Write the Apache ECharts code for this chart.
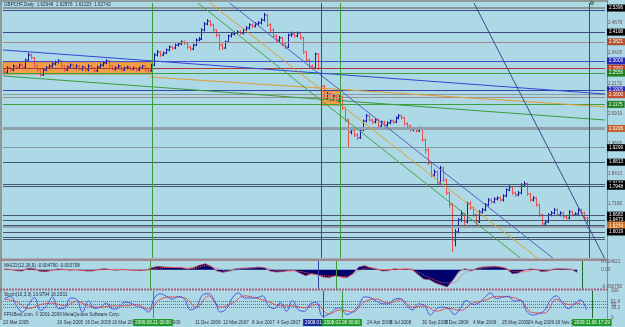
<!DOCTYPE html>
<html><head><meta charset="utf-8">
<script src="https://cdn.jsdelivr.net/npm/echarts@6/dist/echarts.min.js"></script>
<style>html,body{margin:0;padding:0;background:#add8e6;overflow:hidden}#c{width:625px;height:327px}</style>
</head><body><div id="c"></div>
<script>
// ---------------- DATA ----------------
const firstOpen = 2.270;
const closes = [
2.264,2.281,2.273,2.289,2.281,2.293,2.285,2.314,2.335,2.323,
2.289,2.273,2.252,2.273,2.281,2.289,2.298,2.306,2.310,2.289,
2.273,2.285,2.293,2.281,2.289,2.277,2.285,2.273,2.289,2.281,
2.269,2.285,2.293,2.302,2.310,2.289,2.277,2.281,2.289,2.273,
2.281,2.285,2.277,2.281,2.273,2.281,2.289,2.273,2.269,2.293,
2.335,2.347,2.335,2.343,2.356,2.368,2.364,2.376,2.381,2.389,
2.385,2.368,2.360,2.376,2.397,2.401,2.439,2.464,2.476,2.460,
2.439,2.418,2.376,2.364,2.389,2.414,2.422,2.426,2.430,2.426,
2.439,2.447,2.460,2.455,2.464,2.468,2.480,2.501,2.460,2.439,
2.414,2.397,2.406,2.381,2.368,2.418,2.422,2.414,2.426,2.406,
2.347,2.314,2.289,2.281,2.339,2.281,2.206,2.157,2.173,2.148,
2.165,2.144,2.161,2.115,2.065,2.015,2.024,2.003,1.991,2.024,
2.061,2.082,2.065,2.057,2.065,2.040,2.057,2.044,2.053,2.061,
2.057,2.074,2.082,2.074,2.049,2.040,2.024,2.028,2.020,2.032,
1.982,1.941,1.887,1.837,1.849,1.804,1.866,1.816,1.762,1.713,
1.567,1.600,1.650,1.675,1.642,1.717,1.700,1.671,1.642,1.683,
1.692,1.713,1.733,1.725,1.737,1.741,1.733,1.750,1.775,1.787,
1.762,1.754,1.762,1.796,1.800,1.758,1.733,1.741,1.713,1.671,
1.634,1.642,1.671,1.679,1.692,1.671,1.679,1.663,1.658,1.683,
1.671,1.675,1.692,1.679,1.658,1.627];
const highs = [
2.281,2.289,2.287,2.296,2.294,2.300,2.298,2.320,2.345,2.341,
2.327,2.293,2.277,2.279,2.289,2.296,2.304,2.312,2.318,2.314,
2.294,2.291,2.300,2.298,2.296,2.294,2.291,2.289,2.296,2.294,
2.285,2.291,2.300,2.308,2.318,2.314,2.293,2.289,2.296,2.293,
2.287,2.291,2.289,2.287,2.285,2.287,2.294,2.293,2.279,2.298,
2.343,2.356,2.352,2.350,2.362,2.375,2.374,2.383,2.389,2.396,
2.395,2.390,2.372,2.382,2.404,2.410,2.446,2.472,2.484,2.481,
2.465,2.443,2.422,2.383,2.395,2.420,2.430,2.434,2.438,2.437,
2.446,2.455,2.467,2.466,2.472,2.476,2.488,2.510,2.505,2.466,
2.445,2.420,2.414,2.410,2.387,2.424,2.432,2.428,2.433,2.431,
2.410,2.352,2.320,2.296,2.345,2.343,2.285,2.212,2.181,2.179,
2.172,2.170,2.168,2.166,2.120,2.070,2.036,2.030,2.011,2.030,
2.067,2.090,2.088,2.071,2.072,2.070,2.063,2.062,2.060,2.067,
2.066,2.080,2.090,2.088,2.078,2.055,2.046,2.036,2.034,2.038,
2.036,1.988,1.947,1.893,1.860,1.855,1.875,1.870,1.822,1.768,
1.720,1.612,1.658,1.690,1.680,1.725,1.728,1.706,1.677,1.690,
1.700,1.720,1.741,1.740,1.744,1.749,1.747,1.757,1.782,1.795,
1.792,1.768,1.770,1.803,1.810,1.805,1.763,1.749,1.746,1.718,
1.676,1.650,1.678,1.687,1.699,1.697,1.686,1.684,1.668,1.690,
1.688,1.682,1.699,1.697,1.684,1.663];
const lows = [
2.256,2.260,2.266,2.268,2.275,2.277,2.279,2.281,2.308,2.316,
2.283,2.266,2.244,2.248,2.268,2.277,2.283,2.292,2.300,2.283,
2.266,2.268,2.279,2.275,2.275,2.271,2.270,2.266,2.268,2.275,
2.262,2.264,2.279,2.287,2.296,2.283,2.271,2.270,2.275,2.266,
2.268,2.275,2.271,2.272,2.266,2.268,2.276,2.267,2.262,2.266,
2.289,2.329,2.327,2.330,2.339,2.350,2.356,2.359,2.370,2.376,
2.378,2.360,2.352,2.355,2.372,2.392,2.397,2.433,2.458,2.452,
2.431,2.410,2.356,2.356,2.360,2.385,2.408,2.416,2.420,2.419,
2.420,2.433,2.441,2.447,2.449,2.458,2.462,2.474,2.452,2.431,
2.406,2.389,2.390,2.372,2.360,2.364,2.410,2.406,2.408,2.398,
2.339,2.306,2.281,2.273,2.277,2.273,2.198,2.150,2.150,2.142,
2.144,2.138,2.140,2.107,2.057,1.953,2.005,1.995,1.982,1.986,
2.018,2.055,2.059,2.049,2.051,2.034,2.036,2.038,2.039,2.047,
2.050,2.052,2.068,2.067,2.042,2.032,2.017,2.018,2.012,2.015,
1.975,1.925,1.878,1.828,1.830,1.796,1.800,1.808,1.754,1.700,
1.517,1.540,1.594,1.642,1.615,1.636,1.692,1.663,1.630,1.637,
1.676,1.686,1.707,1.718,1.719,1.731,1.726,1.727,1.744,1.769,
1.755,1.746,1.748,1.757,1.790,1.750,1.726,1.727,1.705,1.663,
1.626,1.628,1.637,1.665,1.673,1.665,1.665,1.656,1.651,1.653,
1.665,1.666,1.670,1.673,1.650,1.612];

// MACD main (one value every 2 bars) and signal (one value every 4 bars)
const macdMain = [
0.002,0.001,-0.003,-0.004,0.004,0.003,-0.005,-0.006,-0.002,0.002,
0.001,-0.002,0.000,-0.002,-0.004,-0.004,0.001,0.003,0.000,-0.002,
0.001,-0.001,-0.002,-0.003,-0.001,0.006,0.010,0.008,0.007,0.006,
0.006,0.002,0.006,0.013,0.018,0.010,-0.004,-0.008,-0.004,0.002,
0.004,0.005,0.006,0.008,0.006,-0.004,-0.007,-0.006,-0.003,-0.001,
-0.010,-0.018,-0.012,-0.015,-0.022,-0.024,-0.018,-0.022,-0.024,-0.012,
0.008,0.012,0.006,0.002,-0.004,-0.003,0.003,0.001,0.002,0.001,
-0.014,-0.028,-0.030,-0.040,-0.046,-0.052,-0.030,-0.005,0.003,-0.004,
0.004,0.008,0.009,0.010,0.008,0.004,-0.012,-0.010,-0.002,0.002,
0.001,-0.006,-0.004,0.002,0.003,0.002,0.001,-0.008];
const macdSignal = [
0.001,-0.001,0.000,-0.002,-0.003,0.000,-0.001,-0.003,-0.001,0.001,
0.000,-0.001,-0.002,0.004,0.007,0.006,0.004,0.012,0.004,-0.005,
0.002,0.005,0.006,-0.002,-0.004,-0.005,-0.013,-0.018,-0.020,-0.021,
-0.004,0.006,0.000,0.000,0.002,-0.008,-0.024,-0.038,-0.040,-0.008,
0.001,0.007,0.008,-0.004,-0.006,0.000,-0.003,0.002,0.002];

// Stochastic main (every 2 bars) and signal (every 4 bars)
const stochMain = [
72,80,45,22,50,76,28,45,78,35,
36,74,70,22,64,35,41,55,33,37,
58,56,43,37,22,75,90,80,70,80,
70,30,40,85,90,65,22,35,75,93,
74,74,75,82,45,35,57,25,65,30,
25,52,58,6,13,32,38,13,22,45,
78,75,62,53,52,70,72,45,30,52,
45,11,35,40,35,13,37,65,50,55,
75,93,72,77,80,62,67,26,11,16,
28,67,82,55,35,52,67,30];
const stochSignal = [
70,60,35,50,55,45,62,45,40,45,
45,50,32,70,78,75,40,82,40,55,
82,74,60,45,45,38,50,15,30,22,
60,70,55,68,40,45,25,36,28,55,
65,80,78,65,20,18,70,50,55];

// horizontal levels (price), fib texts and right-side price tags
const hLevels = [2.534,2.522,2.430,2.393,2.306,2.281,2.256,2.186,2.169,2.157,2.127,2.032,1.945,1.887,1.804,1.791,1.667,1.650,1.634,1.621,1.617,1.604,1.596,1.580,1.571];
const fibTexts = ['','(3) 38.60% 2.5396','(2) 76.40% 2.4198','(1) 61.80% 2.3821','(1) TOP 52.30% 2.3009','(3) 00.00% 2.2950','(1) BOT 47.25% 2.2556','(2) TOP 52.30% 2.1905','(3) 50.00% 2.1600','','(1) BOT 47.25% 2.1175','(3) 23.60% 2.0206','(1) 14.60% 1.9299','(2) 23.60% 1.8813','(2) 14.60% 1.8133','(1) 14.60% 1.7948','(1) 0.00% 1.6683','(2) 0.00% 1.6473','','(3) 0.00% 1.6207','','(1) -14.60% 1.6019','','(2) -14.60% 1.5798','(3) -23.60% 1.5710'];
const tagTexts = ['2.5396','','2.4198','2.3821','2.3009','2.2950','2.2556','2.1905','2.1600','','2.1175','2.0206','1.9299','1.8813','1.8133','1.7948','1.6683','1.6473','1.6340','1.6274','','1.6019','','',''];

// trend lines [x1, price1, x2, price2] in bar units
const trendLines = [
  [0, 2.356, 201.67, 2.173],
  [0, 2.248, 201.67, 2.065],
  [49, 2.244, 201.67, 2.120],
  [65.3, 2.551, 173.3, 1.492],
  [69.4, 2.551, 179, 1.492],
  [75.9, 2.551, 184.2, 1.492],
  [157.8, 2.551, 201.5, 1.492]
];
// rectangles [x1, price1, x2, price2]
const boxes = [[0, 2.306, 50, 2.256], [106.67, 2.186, 113, 2.127]];
// vertical lines (bar units) and their time tags
const vLines = [50, 106.67, 113, 196.33];
const vTexts = ['2006.08.21 00:00', '2008.01.09 00:00', '2008.02.08 00:00', '2009.11.06 17:29'];

// axis tick labels
const priceTicks = [2.4678, 2.3425, 2.2172, 2.0919, 1.9666, 1.8413, 1.7160, 1.5907];
const macdTicks = [0.024621, 0, -0.050795];
const macdTickTexts = ['0.024621', '0.00', '-0.050795'];
const stochTicks = [100, 61.8, 50, 38.2, 0];
const stochLevels = [61.8, 50, 38.2];
const dateTicks = [0, 8.33, 18, 27.33, 36.33, 51.33, 64, 73.33, 83, 91.33, 121.33, 129, 139.67, 147.33, 156.67, 166.33, 175, 184];
const dateLabels = ['23 Mar 2005','23 Jun 2005','19 Sep 2005','16 Dec 2005','16 Mar 2006','7 Sep 2006','11 Dec 2006','12 Mar 2007','8 Jun 2007','4 Sep 2007','24 Apr 2008','8 Jul 2008','30 Sep 2008','5 Dec 2008','4 Mar 2009','25 May 2009','24 Aug 2009','18 Nov 2009'];

// ---------------- STYLE ----------------
const FONT = 'Liberation Sans';
const FS = 4.6;
const XMAX = 201.67;
const levelColors = ['#8c9696','#3e4a80','#3e4a80','#a08888','#4a4ad0','#a83a3a','#3ea03e','#3a44a8','#909a9a','#a09090','#3ea03e','#8fa0a8','#8a9aa4','#46566e','#46566e','#46566e','#46566e','#46566e','#46566e','#8fa0a8','#a8c030','#46566e','#46566e','#46566e','#46566e'];
const levelWidths = [2,1,1,1,1,1,1,1,1,1,1,3,1,1,1,1,1,1,1,2,1,1,1,1,1];
const tagColors = ['#000','#000','#000','#b0502e','#2828b8','#c0401e','#1e801e','#2828b8','#c0502e','#000','#1e801e','#c0602e','#000','#000','#000','#000','#000','#000','#c06020','#d07020','#000','#000','#000','#000','#000'];
const trendColors = ['#3446d4','#3a9c3a','#e0a030','#4aa04a','#e0a030','#5060c0','#3a4a8c'];
const vLineColors = ['#3c9c3c', '#3848a0', '#3c9c3c', '#1e6a2e'];
const vTagColors = ['#1f9a2a', '#1a2a9a', '#1f9a2a', '#1f9a2a'];

// ---------------- BUILD ----------------
const barData = closes.map((c, i) => [i + 0.5, i === 0 ? firstOpen : closes[i - 1], c, lows[i], highs[i]]);
const macdData = macdMain.map((v, k) => [2 * k + 0.5, v]);
const macdSigData = macdSignal.map((v, k) => [4 * k + 0.5, v]);
const stochData = stochMain.map((v, k) => [2 * k + 0.5, v]);
const stochSigData = stochSignal.map((v, k) => [4 * k + 0.5, v]);

function vMarks(withLabels) {
  return vLines.map((v, i) => ({
    xAxis: v,
    lineStyle: { color: vLineColors[i], width: 1, type: 'solid' },
    label: withLabels ? { show: true, position: 'start', formatter: vTexts[i], backgroundColor: vTagColors[i], color: '#fff', fontSize: FS, fontFamily: FONT, padding: [1, 2], distance: 1 } : { show: false }
  }));
}

const levelMarks = hLevels.map((v, i) => ({
  yAxis: v,
  lineStyle: { color: levelColors[i], width: levelWidths[i], type: i === 20 ? 'dotted' : 'solid' },
  label: tagTexts[i] ? { show: true, position: 'end', formatter: tagTexts[i], backgroundColor: tagColors[i], color: '#fff', fontSize: FS, fontFamily: FONT, padding: [1, 2], distance: 2 } : { show: false }
}));
const trendMarks = trendLines.map((t, i) => [
  { coord: [t[0], t[1]], lineStyle: { color: trendColors[i], width: 1, type: 'solid' } },
  { coord: [t[2], t[3]] }
]);
const fibMarks = hLevels.map((v, i) => ({
  yAxis: v,
  lineStyle: { opacity: 0 },
  label: fibTexts[i] ? { show: true, position: 'insideEndBottom', formatter: fibTexts[i], color: '#2a2a3a', fontSize: FS, fontFamily: FONT, distance: 1 } : { show: false }
}));

const grids = [
  { left: 3, right: 17, top: 3, height: 255 },
  { left: 3, right: 17, top: 261, height: 28 },
  { left: 3, right: 17, top: 291, height: 27 }
];
const hiddenX = (gi) => ({ type: 'value', gridIndex: gi, min: 0, max: XMAX, show: false });

const option = {
  animation: false,
  backgroundColor: '#add8e6',
  grid: grids,
  xAxis: [hiddenX(0), hiddenX(1), {
    type: 'value', gridIndex: 2, min: 0, max: XMAX,
    axisLine: { show: false }, axisTick: { show: false }, splitLine: { show: false },
    axisLabel: { show: true, customValues: dateTicks, formatter: v => dateLabels[dateTicks.indexOf(v)] || '', align: 'left', fontSize: FS, fontFamily: FONT, color: '#303040', margin: 2, hideOverlap: false, showMinLabel: true, showMaxLabel: true }
  }],
  yAxis: [
    { type: 'value', gridIndex: 0, position: 'right', min: 1.492, max: 2.551, splitLine: { show: false }, axisLine: { show: false }, axisTick: { show: false },
      axisLabel: { customValues: priceTicks, formatter: v => v.toFixed(4), fontSize: FS, fontFamily: FONT, color: '#6a5050', margin: 3 } },
    { type: 'value', gridIndex: 1, position: 'right', min: -0.058, max: 0.026, splitLine: { show: false }, axisLine: { show: false }, axisTick: { show: false },
      axisLabel: { customValues: macdTicks, formatter: v => macdTickTexts[macdTicks.indexOf(v)] || '', fontSize: FS, fontFamily: FONT, color: '#6a5050', margin: 3 } },
    { type: 'value', gridIndex: 2, position: 'right', min: 0, max: 100, splitLine: { show: false }, axisLine: { show: false }, axisTick: { show: false },
      axisLabel: { customValues: stochTicks, formatter: v => String(v), fontSize: FS, fontFamily: FONT, color: '#6a5050', margin: 3 } }
  ],
  series: [
    { name: 'boxes', type: 'line', xAxisIndex: 0, yAxisIndex: 0, data: [], z: 1,
      markArea: { silent: true, itemStyle: { color: '#eea048', borderColor: '#d08030', borderWidth: 1 },
        data: boxes.map(b => [{ coord: [b[0], b[1]] }, { coord: [b[2], b[3]] }]) } },
    { name: 'levels', type: 'line', xAxisIndex: 0, yAxisIndex: 0, data: [], z: 2,
      markLine: { silent: true, symbol: ['none', 'none'], animation: false, data: levelMarks.concat(trendMarks).concat(vMarks(false)) } },
    { name: 'fibs', type: 'line', xAxisIndex: 0, yAxisIndex: 0, data: [], z: 3,
      markLine: { silent: true, symbol: ['none', 'none'], animation: false, data: fibMarks } },
    { name: 'price', type: 'custom', xAxisIndex: 0, yAxisIndex: 0, z: 4, clip: true,
      encode: { x: 0, y: [1, 2, 3, 4] }, data: barData,
      renderItem: function (params, api) {
        const x = api.value(0), o = api.value(1), c = api.value(2), l = api.value(3), h = api.value(4);
        const pH = api.coord([x, h]), pL = api.coord([x, l]), pO = api.coord([x, o]), pC = api.coord([x, c]);
        const col = c >= o ? '#1a1aa8' : '#ee4e4e';
        const xx = Math.round(pH[0]) + 0.5;
        return { type: 'group', children: [
          { type: 'line', shape: { x1: xx, y1: pH[1], x2: xx, y2: pL[1] }, style: { stroke: col, lineWidth: 1 } },
          { type: 'line', shape: { x1: xx - 1.5, y1: pO[1], x2: xx, y2: pO[1] }, style: { stroke: col, lineWidth: 1 } },
          { type: 'line', shape: { x1: xx, y1: pC[1], x2: xx + 1.5, y2: pC[1] }, style: { stroke: col, lineWidth: 1 } }
        ] };
      } },
    { name: 'macd', type: 'line', xAxisIndex: 1, yAxisIndex: 1, data: macdData, showSymbol: false, z: 3,
      lineStyle: { color: '#b84868', width: 0.8 }, areaStyle: { color: '#00006e', opacity: 1, origin: 0 },
      markLine: { silent: true, symbol: ['none', 'none'], animation: false, data: vMarks(false) } },
    { name: 'macdSignal', type: 'line', xAxisIndex: 1, yAxisIndex: 1, data: macdSigData, showSymbol: false, z: 4, smooth: 0.3,
      lineStyle: { color: '#e85a5a', width: 1, type: 'dotted' } },
    { name: 'stoch', type: 'line', xAxisIndex: 2, yAxisIndex: 2, data: stochData, showSymbol: false, z: 4, smooth: 0.4,
      lineStyle: { color: '#4a5ae0', width: 1 },
      markLine: { silent: true, symbol: ['none', 'none'], animation: false,
        data: stochLevels.map(v => ({ yAxis: v, lineStyle: { color: '#9a50b0', type: 'dotted', width: 1 }, label: { show: false } })).concat(vMarks(true)) } },
    { name: 'stochSignal', type: 'line', xAxisIndex: 2, yAxisIndex: 2, data: stochSigData, showSymbol: false, z: 3, smooth: 0.4,
      lineStyle: { color: '#e85050', width: 1 } }
  ],
  graphic: [
    { type: 'rect', shape: { x: 0, y: 0, width: 608, height: 2 }, style: { fill: '#8c9a9a' }, silent: true },
    { type: 'rect', shape: { x: 0, y: 0, width: 2, height: 320 }, style: { fill: '#8c9a9a' }, silent: true },
    { type: 'rect', shape: { x: 607, y: 0, width: 1, height: 319 }, style: { fill: '#b07a7a' }, silent: true },
    { type: 'circle', shape: { cx: 592, cy: 3, r: 1.5 }, style: { fill: 'none', stroke: '#1e6a2e', lineWidth: 1 }, silent: true },
    { type: 'rect', shape: { x: 0, y: 258.5, width: 608, height: 2.5 }, style: { fill: '#a08890' }, silent: true },
    { type: 'line', shape: { x1: 0, y1: 289.5, x2: 608, y2: 289.5 }, style: { stroke: '#a85a78', lineWidth: 2, lineDash: [2, 1] }, silent: true },
    { type: 'text', left: 4, top: 2, silent: true, style: { text: 'GBPCHF,Daily  1.62948  1.62978  1.61223  1.62742', fill: '#1e2a44', fontSize: FS, fontFamily: FONT } },
    { type: 'text', left: 4, top: 263, silent: true, style: { text: 'MACD(12,26,9) -0.004790 -0.003708', fill: '#1e2a44', fontSize: FS, fontFamily: FONT } },
    { type: 'text', left: 4, top: 292, silent: true, style: { text: 'Stoch(10,3,3) 13.9794 16.2031', fill: '#1e2a44', fontSize: FS, fontFamily: FONT } },
    { type: 'text', left: 4, top: 312, silent: true, style: { text: 'FPGBest.com, © 2001-2009 MetaQuotes Software Corp.', fill: '#2a3040', fontSize: FS, fontFamily: FONT } }
  ]
};

const chart = echarts.init(document.getElementById('c'));
chart.setOption(option);
</script>
</body></html>
